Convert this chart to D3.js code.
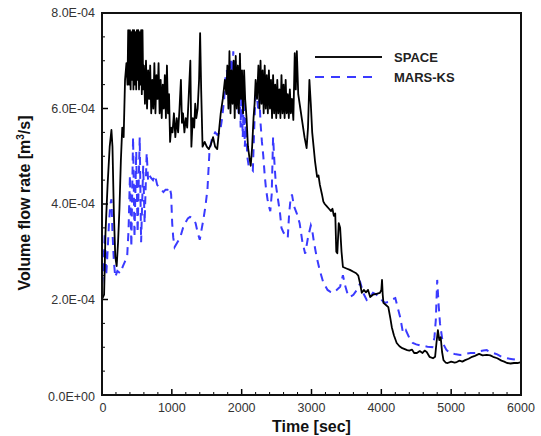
<!DOCTYPE html>
<html>
<head>
<meta charset="utf-8">
<script src="https://cdn.jsdelivr.net/npm/d3@7"></script>
<style>
  body { margin: 0; background: #fff; }
  svg { display: block; font-family: Arial, "Liberation Sans", sans-serif; }
</style>
</head>
<body>
<div id="chart"></div>
<script>
// SPACE result, [time (s), flow (1e-4 m3/s)]
const spaceData = [
  [0, 2.0], [30, 2.1], [50, 3.4], [80, 4.4], [110, 5.2], [135, 5.55], [150, 5.2], [170, 3.8],
  [190, 2.9], [210, 2.7], [230, 3.2], [250, 3.9], [270, 4.9], [290, 5.6], [310, 5.4], [330, 6.6],
  [350, 6.95], [365, 6.5], [375, 7.64], [390, 6.5], [400, 7.64], [410, 6.4], [420, 7.6], [430, 6.6],
  [440, 7.64], [450, 6.4], [460, 7.64], [470, 6.5], [480, 7.6], [490, 6.4], [500, 7.64], [510, 6.6],
  [520, 7.64], [530, 6.4], [540, 7.6], [550, 6.5], [560, 7.64], [570, 6.3], [580, 7.64], [590, 6.4],
  [600, 6.9], [615, 6.1], [630, 7.0], [645, 6.0], [660, 6.8], [675, 6.2], [690, 6.9], [705, 5.9],
  [720, 6.6], [735, 6.0], [750, 6.95], [765, 5.9], [780, 6.7], [795, 6.2], [810, 6.95], [825, 5.9],
  [840, 6.6], [855, 5.8], [870, 6.5], [885, 6.0], [900, 6.7], [915, 5.8], [930, 6.9], [945, 5.9],
  [960, 6.3], [975, 5.3], [990, 5.6], [1010, 5.5], [1030, 5.9], [1050, 5.4], [1070, 5.8], [1090, 5.5],
  [1110, 6.0], [1130, 6.6], [1145, 5.7], [1160, 5.9], [1180, 5.5], [1200, 5.8], [1220, 5.6], [1240, 6.2],
  [1265, 7.0], [1280, 5.2], [1300, 5.8], [1320, 5.6], [1335, 6.1], [1350, 5.8], [1370, 6.0], [1390, 6.6],
  [1405, 7.58], [1420, 6.4], [1440, 5.2], [1470, 5.3], [1500, 5.2], [1530, 5.15], [1560, 5.25], [1590, 5.4],
  [1620, 5.2], [1650, 5.15], [1680, 5.6], [1700, 5.9], [1730, 6.2], [1760, 6.6], [1780, 6.3], [1795, 6.9],
  [1810, 6.0], [1825, 7.2], [1840, 5.9], [1855, 6.8], [1870, 6.1], [1885, 7.0], [1900, 5.8], [1915, 7.1],
  [1930, 6.0], [1945, 6.9], [1960, 5.9], [1975, 7.15], [1990, 6.2], [2005, 6.8], [2020, 5.9], [2035, 6.8],
  [2050, 6.2], [2070, 5.8], [2090, 5.2], [2110, 4.98], [2130, 4.8], [2150, 5.2], [2170, 5.8], [2185, 6.1],
  [2200, 6.6], [2220, 6.2], [2240, 6.9], [2255, 6.0], [2270, 7.0], [2285, 6.1], [2300, 6.8], [2315, 5.9],
  [2330, 6.9], [2345, 6.0], [2360, 6.7], [2375, 5.9], [2390, 6.8], [2405, 6.0], [2420, 6.6], [2435, 5.8],
  [2450, 6.7], [2465, 5.9], [2480, 6.5], [2495, 5.8], [2510, 6.6], [2525, 5.9], [2540, 6.4], [2555, 5.8],
  [2570, 6.7], [2585, 5.9], [2600, 6.5], [2615, 5.8], [2630, 6.6], [2645, 5.9], [2660, 6.3], [2675, 5.8],
  [2690, 6.4], [2705, 5.9], [2720, 6.2], [2740, 5.76], [2760, 7.16], [2775, 6.4], [2790, 7.2], [2810, 6.3],
  [2840, 6.0], [2870, 5.7], [2900, 5.4], [2930, 5.17], [2950, 5.6], [2970, 6.6], [2990, 6.1], [3010, 5.5],
  [3030, 5.2], [3050, 4.9], [3080, 4.57], [3100, 4.6], [3120, 4.4], [3150, 4.2], [3170, 4.05], [3190, 4.0],
  [3220, 3.95], [3250, 3.9], [3280, 3.85], [3300, 3.9], [3320, 3.75], [3340, 3.8], [3355, 3.0], [3370, 2.97],
  [3390, 3.6], [3410, 3.5], [3430, 3.0], [3450, 2.68], [3500, 2.65], [3550, 2.62], [3600, 2.58], [3640, 2.55],
  [3670, 2.5], [3700, 2.3], [3720, 2.14], [3750, 2.2], [3780, 2.15], [3810, 2.2], [3840, 2.05], [3880, 2.1],
  [3930, 2.12], [3980, 2.14], [4000, 2.2], [4010, 2.41], [4020, 2.1], [4030, 1.93], [4070, 1.88], [4100, 1.84],
  [4130, 1.6], [4150, 1.42], [4180, 1.25], [4220, 1.09], [4260, 1.02], [4300, 0.98], [4370, 0.94], [4400, 0.93],
  [4440, 0.95], [4470, 0.88], [4510, 0.88], [4550, 0.92], [4590, 0.88], [4620, 0.93], [4650, 0.9], [4690, 0.8],
  [4740, 0.77], [4770, 0.8], [4790, 1.1], [4810, 1.36], [4830, 1.15], [4850, 1.21], [4870, 0.9], [4890, 0.73],
  [4920, 0.68], [4950, 0.67], [5000, 0.7], [5050, 0.68], [5080, 0.69], [5120, 0.72], [5160, 0.7], [5200, 0.73],
  [5250, 0.76], [5300, 0.8], [5340, 0.82], [5370, 0.84], [5400, 0.86], [5450, 0.83], [5510, 0.84], [5560, 0.83],
  [5600, 0.8], [5660, 0.77], [5720, 0.72], [5760, 0.7], [5800, 0.67], [5850, 0.66], [5900, 0.67], [5950, 0.67],
  [6000, 0.69]
];

// MARS-KS result, [time (s), flow (1e-4 m3/s)]
const marsData = [
  [0, 2.3], [20, 2.6], [40, 3.4], [60, 2.5], [80, 3.0], [100, 3.6], [120, 4.0], [135, 4.1],
  [150, 3.4], [170, 2.8], [190, 2.47], [220, 2.6], [260, 2.55], [300, 2.7], [330, 2.8], [360, 2.89],
  [380, 3.45], [400, 4.6], [420, 3.1], [445, 5.4], [465, 3.3], [490, 5.1], [510, 3.4], [540, 5.4],
  [560, 3.2], [590, 4.8], [610, 3.6], [640, 5.07], [660, 4.5], [680, 4.6], [700, 4.55], [730, 4.5],
  [760, 4.6], [790, 4.4], [820, 4.35], [850, 4.3], [880, 4.25], [910, 4.3], [940, 4.3], [970, 4.35],
  [990, 4.2], [1005, 3.6], [1020, 3.3], [1040, 3.1], [1080, 3.2], [1120, 3.3], [1160, 3.5], [1190, 3.6],
  [1230, 3.7], [1260, 3.73], [1300, 3.7], [1340, 3.6], [1370, 3.4], [1400, 3.25], [1430, 3.5], [1450, 3.66],
  [1480, 3.94], [1510, 4.3], [1540, 5.13], [1580, 5.4], [1620, 5.5], [1650, 5.45], [1690, 5.5], [1720, 5.8],
  [1750, 6.2], [1770, 6.7], [1790, 6.8], [1805, 6.5], [1820, 6.1], [1835, 6.6], [1850, 7.0], [1865, 6.4],
  [1880, 7.2], [1895, 6.5], [1910, 7.0], [1925, 6.0], [1940, 6.9], [1955, 5.9], [1970, 6.8], [1985, 5.6],
  [2000, 6.6], [2015, 5.4], [2030, 6.2], [2045, 5.2], [2060, 5.8], [2080, 5.0], [2100, 4.8], [2130, 4.75],
  [2160, 4.7], [2180, 5.6], [2195, 6.2], [2215, 6.3], [2235, 6.0], [2255, 6.2], [2270, 5.7], [2290, 5.3],
  [2310, 5.0], [2330, 4.6], [2350, 4.3], [2370, 4.1], [2390, 3.95], [2410, 3.85], [2430, 4.2], [2450, 5.4],
  [2470, 4.85], [2490, 4.4], [2510, 4.2], [2530, 4.0], [2550, 3.8], [2570, 3.5], [2600, 3.4], [2630, 3.35],
  [2660, 3.29], [2680, 3.8], [2700, 4.1], [2720, 4.2], [2750, 3.95], [2790, 3.8], [2830, 3.6], [2870, 3.2],
  [2910, 2.96], [2950, 3.3], [2990, 3.55], [3010, 3.45], [3030, 3.25], [3060, 3.0], [3080, 2.85], [3120, 2.6],
  [3170, 2.35], [3230, 2.2], [3270, 2.16], [3310, 2.14], [3360, 2.2], [3410, 2.27], [3450, 2.51], [3480, 2.3],
  [3520, 2.1], [3550, 2.05], [3600, 2.1], [3650, 2.2], [3700, 2.35], [3740, 2.14], [3790, 1.99], [3840, 2.05],
  [3880, 2.14], [3930, 2.1], [3980, 2.05], [4010, 1.98], [4050, 1.93], [4100, 1.95], [4150, 2.0], [4200, 2.03],
  [4240, 1.8], [4270, 1.63], [4310, 1.3], [4350, 1.36], [4400, 1.2], [4450, 1.09], [4500, 1.06], [4550, 1.04],
  [4600, 1.03], [4660, 1.01], [4730, 1.0], [4760, 1.2], [4780, 1.57], [4800, 2.41], [4820, 1.9], [4840, 1.5],
  [4880, 1.09], [4930, 0.95], [4980, 0.88], [5050, 0.86], [5130, 0.84], [5200, 0.86], [5280, 0.88], [5350, 0.88],
  [5420, 0.92], [5460, 0.93], [5510, 0.94], [5550, 0.9], [5600, 0.88], [5660, 0.85], [5720, 0.8], [5800, 0.77],
  [5880, 0.75], [5960, 0.73], [6000, 0.72]
];

const seriesNames = ['SPACE', 'MARS-KS'];
const xTickValues = [0, 1000, 2000, 3000, 4000, 5000, 6000];
const yTickValues = [0, 2, 4, 6, 8];
const yTickLabels = ['0.0E+00', '2.0E-04', '4.0E-04', '6.0E-04', '8.0E-04'];

const width = 541, height = 436;
const margin = { top: 13, right: 20, bottom: 41, left: 102 };

const svg = d3.select('#chart').append('svg')
  .attr('width', width)
  .attr('height', height);

const x = d3.scaleLinear().domain([0, 6000]).range([margin.left, width - margin.right]);
const y = d3.scaleLinear().domain([0, 8]).range([height - margin.bottom, margin.top]);

const plot = svg.append('g');

// minor ticks (inward)
const xMinor = d3.range(0, 6001, 200).filter(d => d % 1000 !== 0);
const yMinor = d3.range(0, 8.01, 0.5).filter(d => Math.abs(d % 2) > 0.01);

plot.selectAll('.xminor').data(xMinor).join('line')
  .attr('x1', d => x(d)).attr('x2', d => x(d))
  .attr('y1', y(0)).attr('y2', y(0) - 3)
  .attr('stroke', '#000').attr('stroke-width', 1);
plot.selectAll('.xmajor').data(xTickValues).join('line')
  .attr('x1', d => x(d)).attr('x2', d => x(d))
  .attr('y1', y(0)).attr('y2', y(0) - 6)
  .attr('stroke', '#000').attr('stroke-width', 1.5);
plot.selectAll('.yminor').data(yMinor).join('line')
  .attr('x1', x(0)).attr('x2', x(0) + 3)
  .attr('y1', d => y(d)).attr('y2', d => y(d))
  .attr('stroke', '#000').attr('stroke-width', 1);
plot.selectAll('.ymajor').data(yTickValues).join('line')
  .attr('x1', x(0)).attr('x2', x(0) + 6)
  .attr('y1', d => y(d)).attr('y2', d => y(d))
  .attr('stroke', '#000').attr('stroke-width', 1.5);

// tick labels
svg.selectAll('.xlab').data(xTickValues).join('text')
  .attr('x', d => x(d) + (d === 0 ? 1 : 0))
  .attr('y', y(0) + 17)
  .attr('text-anchor', 'middle')
  .attr('font-size', 12.5)
  .attr('fill', '#333')
  .text(d => d);
svg.selectAll('.ylab').data(yTickValues).join('text')
  .attr('x', x(0) - 7)
  .attr('y', (d, i) => y(d) + (i === 0 ? 6 : 4))
  .attr('text-anchor', 'end')
  .attr('font-size', 12.5)
  .attr('fill', '#333')
  .text((d, i) => yTickLabels[i]);

// curves
const line = d3.line().x(d => x(d[0])).y(d => y(d[1]));

plot.append('path')
  .datum(marsData)
  .attr('d', line)
  .attr('fill', 'none')
  .attr('stroke', '#3a3aff')
  .attr('stroke-width', 2)
  .attr('stroke-dasharray', '8,6');

plot.append('path')
  .datum(spaceData)
  .attr('d', line)
  .attr('fill', 'none')
  .attr('stroke', '#000')
  .attr('stroke-width', 1.8)
  .attr('stroke-linejoin', 'round');

// frame
svg.append('rect')
  .attr('x', x(0)).attr('y', y(8))
  .attr('width', x(6000) - x(0))
  .attr('height', y(0) - y(8))
  .attr('fill', 'none')
  .attr('stroke', '#111')
  .attr('stroke-width', 2);

// legend
const legend = svg.append('g');
const legendStyles = [
  { stroke: '#111', dash: null, width: 2.2 },
  { stroke: '#3a3aff', dash: '9,7', width: 2 }
];
seriesNames.forEach((name, i) => {
  const ly = 57 + i * 20;
  legend.append('line')
    .attr('x1', 315).attr('x2', i === 0 ? 382 : 378)
    .attr('y1', ly).attr('y2', ly)
    .attr('stroke', legendStyles[i].stroke)
    .attr('stroke-width', legendStyles[i].width)
    .attr('stroke-dasharray', legendStyles[i].dash);
  legend.append('text')
    .attr('x', 394).attr('y', ly + 5)
    .attr('font-size', 13)
    .attr('font-weight', 'bold')
    .attr('fill', '#222')
    .text(name);
});

// axis titles
svg.append('text')
  .attr('x', (x(0) + x(6000)) / 2)
  .attr('y', 432)
  .attr('text-anchor', 'middle')
  .attr('font-size', 16)
  .attr('font-weight', 'bold')
  .attr('fill', '#111')
  .text('Time [sec]');

const yTitle = svg.append('text')
  .attr('transform', 'translate(30,' + ((y(0) + y(8)) / 2 - 1) + ') rotate(-90)')
  .attr('text-anchor', 'middle')
  .attr('font-size', 16)
  .attr('font-weight', 'bold')
  .attr('fill', '#111');
yTitle.append('tspan').text('Volume flow rate [m');
yTitle.append('tspan').attr('dy', -6).attr('font-size', 10).text('3');
yTitle.append('tspan').attr('dy', 6).text('/s]');
</script>
</body>
</html>
